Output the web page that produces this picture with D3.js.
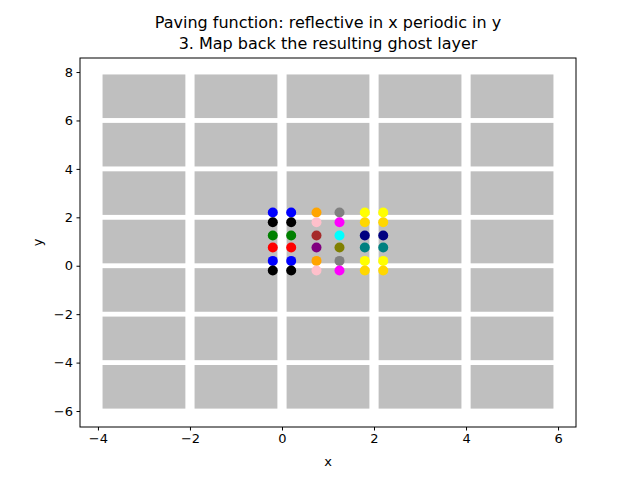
<!DOCTYPE html>
<html><head><meta charset="utf-8">
<script src="https://cdn.jsdelivr.net/npm/d3@7"></script>
<style>body{margin:0;background:#fff}text{font-family:"DejaVu Sans",sans-serif}</style>
</head><body><div id="chart"></div>
<script>
const xCols = [-0.2, 0.2, 0.75, 1.25, 1.8, 2.2];
const yRows = [2.2, 1.8, 1.25, 0.75, 0.2, -0.2];
const dotColors = [
  ['blue', 'blue', 'orange', 'gray', 'yellow', 'yellow'],
  ['black', 'black', 'pink', 'magenta', 'gold', 'gold'],
  ['green', 'green', 'brown', 'cyan', 'navy', 'navy'],
  ['red', 'red', 'purple', 'olive', 'teal', 'teal'],
  ['blue', 'blue', 'orange', 'gray', 'yellow', 'yellow'],
  ['black', 'black', 'pink', 'magenta', 'gold', 'gold']
];
const tileX = [-4, -2, 0, 2, 4];
const tileY = [6, 4, 2, 0, -2, -4, -6];
const tileW = 2, gap = 0.1;
const xTicks = [-4, -2, 0, 2, 4, 6];
const yTicks = [-6, -4, -2, 0, 2, 4, 6, 8];

const W = 640, H = 480;
const m = {left: 80, right: 64, top: 58, bottom: 53};
const x = d3.scaleLinear().domain([-4.39, 6.39]).range([m.left, W - m.right]);
const y = d3.scaleLinear().domain([-6.66, 8.58]).range([H - m.bottom, m.top]);

const svg = d3.select('#chart').append('svg').attr('width', W).attr('height', H);

const tiles = [];
tileX.forEach(tx => tileY.forEach(ty => tiles.push([tx, ty])));
svg.selectAll('rect.tile').data(tiles).enter().append('rect')
  .attr('class', 'tile')
  .attr('x', d => x(d[0] + gap))
  .attr('y', d => y(d[1] + tileW - gap))
  .attr('width', d => x(d[0] + tileW - gap) - x(d[0] + gap))
  .attr('height', d => y(d[1] + gap) - y(d[1] + tileW - gap))
  .attr('fill', '#bfbfbf');

const pts = [];
yRows.forEach((yy, i) => xCols.forEach((xx, j) => pts.push({x: xx, y: yy, c: dotColors[i][j]})));
svg.selectAll('circle').data(pts).enter().append('circle')
  .attr('cx', d => x(d.x)).attr('cy', d => y(d.y)).attr('r', 5).attr('fill', d => d.c);

const gx = svg.append('g').attr('transform', `translate(0,${H - m.bottom})`)
  .call(d3.axisBottom(x).tickValues(xTicks).tickSize(3.5).tickPadding(3.5));
const gy = svg.append('g').attr('transform', `translate(${m.left},0)`)
  .call(d3.axisLeft(y).tickValues(yTicks).tickSize(3.5).tickPadding(3.5));
[gx, gy].forEach(g => {
  g.selectAll('text').attr('font-size', 13).attr('font-family', 'DejaVu Sans').attr('fill', '#000');
  g.select('.domain').remove();
});
svg.append('rect').attr('x', m.left).attr('y', m.top)
  .attr('width', W - m.left - m.right).attr('height', H - m.top - m.bottom)
  .attr('fill', 'none').attr('stroke', '#000').attr('stroke-width', 1);

svg.append('text').attr('x', (m.left + W - m.right) / 2).attr('y', 466)
  .attr('text-anchor', 'middle').attr('font-size', 13).text('x');
svg.append('text').attr('transform', `translate(42,${(m.top + H - m.bottom) / 2}) rotate(-90)`)
  .attr('text-anchor', 'middle').attr('font-size', 13).text('y');
svg.append('text').attr('x', (m.left + W - m.right) / 2).attr('y', 28)
  .attr('text-anchor', 'middle').attr('font-size', 16).text('Paving function: reflective in x periodic in y');
svg.append('text').attr('x', (m.left + W - m.right) / 2).attr('y', 49)
  .attr('text-anchor', 'middle').attr('font-size', 16).text('3. Map back the resulting ghost layer');
</script></body></html>
